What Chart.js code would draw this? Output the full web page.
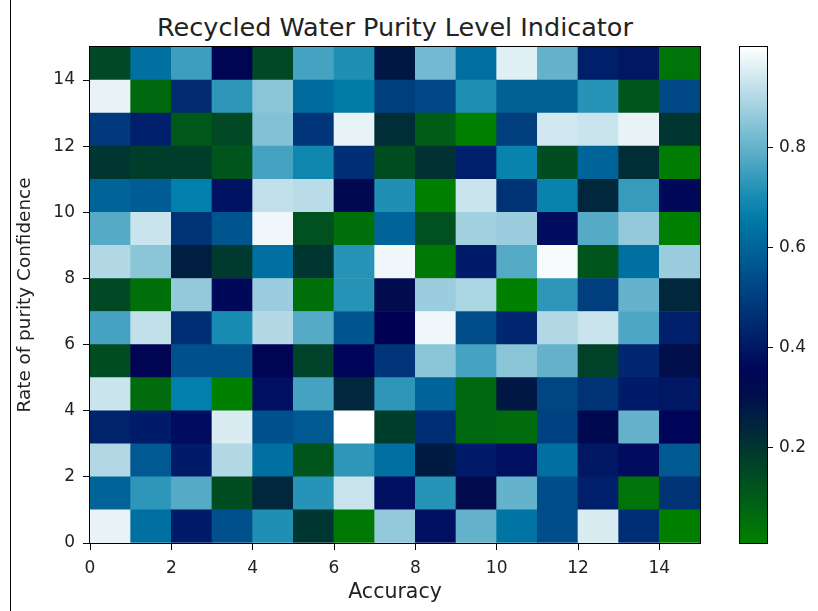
<!DOCTYPE html>
<html>
<head>
<meta charset="utf-8">
<script src="https://cdn.jsdelivr.net/npm/chart.js@4.4.1/dist/chart.umd.min.js"></script>
<style>
    html, body { margin: 0; padding: 0; background: #fff; }
    #wrap { position: relative; width: 818px; height: 611px; overflow: hidden; }
    #edge { position: absolute; left: 10px; top: 0; width: 1px; height: 611px; background: #000; }
    #title {
        position: absolute; left: 90px; top: 12px; width: 610px; text-align: center;
        font-family: 'DejaVu Sans', sans-serif; font-size: 25.5px; line-height: 30px; color: #222;
    }
    #heat { position: absolute; left: 0; top: 0; }
    #bar { position: absolute; left: 730px; top: 0; }
</style>
</head>
<body>
<div id="wrap">
    <div id="edge"></div>
    <div id="title">Recycled Water Purity Level Indicator</div>
    <canvas id="heat" width="818" height="611"></canvas>
    <canvas id="bar" width="88" height="611"></canvas>
</div>
<script>
// cell values, one row per y index, bottom row (y = 0) first
const row0  = [0.97, 0.63, 0.41, 0.55, 0.71, 0.20, 0.03, 0.86, 0.38, 0.80, 0.64, 0.54, 0.95, 0.46, 0.01];
const row1  = [0.60, 0.73, 0.78, 0.14, 0.24, 0.72, 0.93, 0.38, 0.72, 0.31, 0.80, 0.54, 0.42, 0.04, 0.47];
const row2  = [0.90, 0.57, 0.41, 0.90, 0.63, 0.12, 0.73, 0.63, 0.27, 0.41, 0.38, 0.63, 0.40, 0.37, 0.57];
const row3  = [0.43, 0.41, 0.37, 0.95, 0.55, 0.57, 1.00, 0.18, 0.46, 0.07, 0.06, 0.51, 0.32, 0.80, 0.35];
const row4  = [0.93, 0.06, 0.67, 0.01, 0.38, 0.76, 0.24, 0.73, 0.60, 0.07, 0.28, 0.52, 0.47, 0.41, 0.40];
const row5  = [0.14, 0.33, 0.55, 0.55, 0.33, 0.17, 0.35, 0.48, 0.85, 0.76, 0.85, 0.80, 0.17, 0.44, 0.30];
const row6  = [0.76, 0.92, 0.46, 0.70, 0.90, 0.78, 0.56, 0.34, 0.98, 0.54, 0.44, 0.90, 0.93, 0.77, 0.42];
const row7  = [0.15, 0.05, 0.86, 0.36, 0.87, 0.05, 0.72, 0.31, 0.87, 0.89, 0.01, 0.73, 0.50, 0.80, 0.24];
const row8  = [0.90, 0.85, 0.26, 0.19, 0.63, 0.20, 0.72, 0.98, 0.03, 0.41, 0.78, 0.99, 0.12, 0.63, 0.87];
const row9  = [0.78, 0.93, 0.47, 0.56, 0.98, 0.13, 0.05, 0.60, 0.13, 0.88, 0.87, 0.37, 0.78, 0.86, 0.01];
const row10 = [0.60, 0.58, 0.67, 0.39, 0.92, 0.91, 0.32, 0.71, 0.01, 0.93, 0.47, 0.68, 0.24, 0.74, 0.36];
const row11 = [0.20, 0.18, 0.18, 0.12, 0.76, 0.69, 0.46, 0.14, 0.21, 0.42, 0.68, 0.14, 0.60, 0.22, 0.02];
const row12 = [0.49, 0.42, 0.11, 0.15, 0.84, 0.48, 0.97, 0.22, 0.10, 0.01, 0.50, 0.94, 0.93, 0.97, 0.20];
const row13 = [0.97, 0.07, 0.45, 0.73, 0.85, 0.62, 0.66, 0.50, 0.53, 0.71, 0.59, 0.59, 0.72, 0.12, 0.53];
const row14 = [0.15, 0.63, 0.75, 0.33, 0.15, 0.76, 0.71, 0.28, 0.82, 0.63, 0.96, 0.80, 0.42, 0.40, 0.04];
const rows = [row0, row1, row2, row3, row4, row5, row6, row7, row8, row9, row10, row11, row12, row13, row14];

const axisTicks = [0, 2, 4, 6, 8, 10, 12, 14];
const colorbarTicks = [0.2, 0.4, 0.6, 0.8];

const allValues = rows.flat();
const vmin = Math.min(...allValues);
const vmax = Math.max(...allValues);

const FONT = "'DejaVu Sans', sans-serif";
const INK = '#222';

// matplotlib "ocean" colormap
function ocean(v) {
    const t = Math.max(0, Math.min(1, (v - vmin) / (vmax - vmin)));
    const r = Math.max(0, Math.min(1, 3 * t - 2));
    const g = Math.abs((3 * t - 1) / 2);
    const b = t;
    return 'rgb(' + Math.round(r * 255) + ',' + Math.round(g * 255) + ',' + Math.round(b * 255) + ')';
}

// black frame round the plot area
const frame = {
    id: 'frame',
    afterDraw(chart) {
        const a = chart.chartArea;
        const c = chart.ctx;
        c.save();
        c.strokeStyle = '#000';
        c.lineWidth = 1;
        c.strokeRect(Math.round(a.left) - 0.5, Math.round(a.top) - 0.5,
            Math.round(a.right - a.left) + 1, Math.round(a.bottom - a.top) + 1);
        c.restore();
    }
};

const keepTicks = list => scale => {
    scale.ticks = list.map(v => ({ value: v }));
};

const datasets = rows.map((vals, r) => ({
    label: 'y' + r,
    data: vals.map((v, i) => ({ x: i + 0.5, y: [r, r + 1] })),
    backgroundColor: vals.map(ocean),
    borderWidth: 0,
    barPercentage: 1,
    categoryPercentage: 1,
    grouped: false
}));

new Chart(document.getElementById('heat'), {
    type: 'bar',
    data: { datasets: datasets },
    plugins: [frame],
    options: {
        responsive: false,
        animation: false,
        events: [],
        layout: { padding: { left: 0, right: 118, top: 47, bottom: 0 } },
        scales: {
            x: {
                type: 'linear',
                min: 0,
                max: 15,
                offset: false,
                afterBuildTicks: keepTicks(axisTicks),
                afterFit: s => { s.height = 68; },
                border: { display: false },
                grid: { drawOnChartArea: false, offset: false, tickLength: 7, color: '#000', tickWidth: 1 },
                ticks: { font: { family: FONT, size: 17 }, color: INK, padding: 8, maxRotation: 0 },
                title: { display: true, text: 'Accuracy', font: { family: FONT, size: 20.5 }, color: INK, padding: { top: 0, bottom: 6 } }
            },
            y: {
                type: 'linear',
                min: 0,
                max: 15,
                afterBuildTicks: keepTicks(axisTicks),
                afterFit: s => { s.width = 90; },
                border: { display: false },
                grid: { drawOnChartArea: false, tickLength: 7, color: '#000', tickWidth: 1 },
                ticks: { font: { family: FONT, size: 17 }, color: INK, padding: 8 },
                title: { display: true, text: 'Rate of purity Confidence', font: { family: FONT, size: 18.4 }, color: INK, padding: { top: 14, bottom: 0 } }
            }
        },
        plugins: {
            legend: { display: false },
            tooltip: { enabled: false },
            title: { display: false }
        }
    }
});

// colour bar
new Chart(document.getElementById('bar'), {
    type: 'bar',
    data: {
        labels: [''],
        datasets: [{
            data: [[vmin, vmax]],
            borderWidth: 0,
            barPercentage: 1,
            categoryPercentage: 1,
            backgroundColor: function(context) {
                const chart = context.chart;
                const y = chart.scales.y;
                if (!chart.chartArea || !y) return '#000';
                const g = chart.ctx.createLinearGradient(0, y.getPixelForValue(vmin), 0, y.getPixelForValue(vmax));
                for (let k = 0; k <= 20; k++) {
                    g.addColorStop(k / 20, ocean(vmin + (vmax - vmin) * k / 20));
                }
                return g;
            }
        }]
    },
    plugins: [frame],
    options: {
        responsive: false,
        animation: false,
        events: [],
        layout: { padding: { left: 10, right: 0, top: 47, bottom: 68 } },
        scales: {
            x: { display: false },
            y: {
                position: 'right',
                min: vmin,
                max: vmax,
                afterBuildTicks: keepTicks(colorbarTicks),
                afterFit: s => { s.width = 51; },
                border: { display: false },
                grid: { drawOnChartArea: false, tickLength: 6, color: '#000', tickWidth: 1 },
                ticks: { font: { family: FONT, size: 17 }, color: INK, padding: 6, callback: v => v.toFixed(1) }
            }
        },
        plugins: {
            legend: { display: false },
            tooltip: { enabled: false }
        }
    }
});
</script>
</body>
</html>
